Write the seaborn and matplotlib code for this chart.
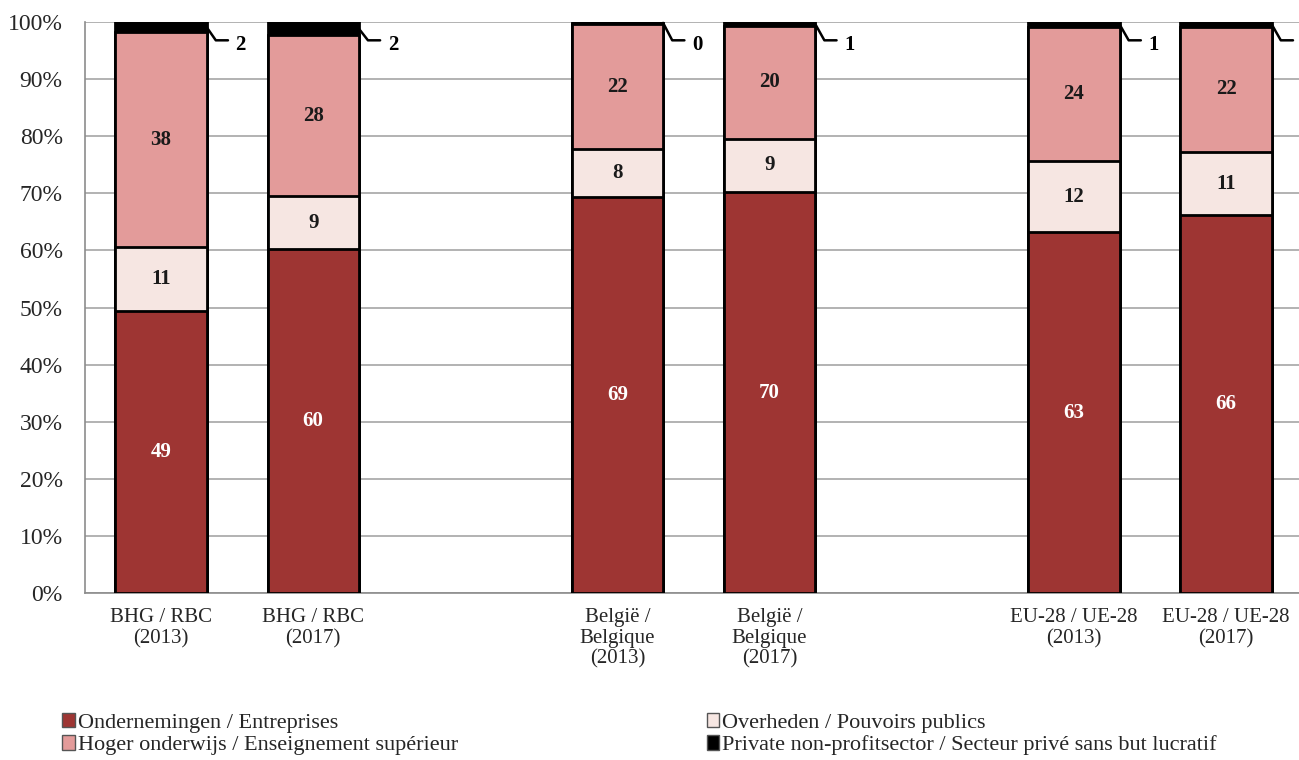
import numpy as np
import pandas as pd
import matplotlib
matplotlib.use("Agg")
import matplotlib.pyplot as plt
import seaborn as sns
from matplotlib.patches import Patch

# ---- data ----
categories = ["BHG / RBC\n(2013)", "BHG / RBC\n(2017)", " ",
              "België /\nBelgique\n(2013)", "België /\nBelgique\n(2017)", "  ",
              "EU-28 / UE-28\n(2013)", "EU-28 / UE-28\n(2017)"]
bars = ["BHG / RBC\n(2013)", "BHG / RBC\n(2017)",
        "België /\nBelgique\n(2013)", "België /\nBelgique\n(2017)",
        "EU-28 / UE-28\n(2013)", "EU-28 / UE-28\n(2017)"]
ondernemingen = [49.4, 60.2, 69.3, 70.2, 63.2, 66.2]
overheden = [11.2, 9.3, 8.4, 9.4, 12.4, 11.0]
hoger_onderwijs = [37.6, 28.2, 22.0, 19.7, 23.6, 22.0]
private_np = [1.8, 2.3, 0.3, 0.7, 0.8, 0.8]

series_names = ["Ondernemingen / Entreprises", "Overheden / Pouvoirs publics",
                "Hoger onderwijs / Enseignement supérieur",
                "Private non-profitsector / Secteur privé sans but lucratif"]
colors = ["#9e3533", "#f6e6e2", "#e39b9a", "#000000"]

series = [ondernemingen, overheden, hoger_onderwijs, private_np]
df = pd.DataFrame({"cat": bars})
for name, vals in zip(series_names, series):
    df[name] = vals
cum = df[series_names].cumsum(axis=1)

sns.set_theme(style="white")
plt.rcParams["font.family"] = ["Liberation Serif", "DejaVu Serif"]

fig = plt.figure(figsize=(12.99, 7.60), dpi=100)
ax = fig.add_axes([0.0654, 0.2197, 0.937, 0.7513])

# overlay cumulative bars (top series first)
for k in range(3, -1, -1):
    sns.barplot(x=df["cat"], y=cum[series_names[k]], order=categories,
                color=colors[k], edgecolor="black", linewidth=2,
                width=0.6, saturation=1, ax=ax, zorder=3)

ax.set_xlim(-0.5, 7.5)
ax.set_ylim(0, 100)
ax.set_xlabel("")
ax.set_ylabel("")
ax.set_yticks(np.arange(0, 101, 10))
ax.set_yticklabels([f"{v}%" for v in range(0, 101, 10)], fontsize=17)
ax.yaxis.grid(True, color="#a6a6a6", linewidth=1.2, zorder=0)
ax.set_axisbelow(True)
ax.set_xticks(range(len(categories)))
ax.set_xticklabels(categories, fontsize=15, linespacing=1.12)
ax.tick_params(axis="x", length=0, pad=11)
ax.tick_params(axis="y", length=0, pad=16)
ax.set_xticks(np.arange(-0.5, 8.0, 1.0), minor=True)
ax.tick_params(axis="x", which="minor", length=6, width=1.2, color="#8c8c8c", direction="out")
for s in ["top", "right"]:
    ax.spines[s].set_visible(False)
for s in ["left", "bottom"]:
    ax.spines[s].set_color("#8c8c8c")
    ax.spines[s].set_linewidth(1.2)

# labels
pos = {c: categories.index(c) for c in bars}
for i, c in enumerate(bars):
    x = pos[c]
    base = 0
    for k in range(3):
        v = series[k][i]
        col = "white" if k == 0 else "#1a1a1a"
        ax.text(x, base + v / 2, f"{v:.0f}", ha="center", va="center",
                fontsize=15, fontweight="bold", color=col, zorder=5)
        base += v
    v = series[3][i]
    ymid = 100 - v / 2
    ax.plot([x + 0.3, x + 0.36, x + 0.44], [ymid, 96.8, 96.8], color="black",
            lw=1.8, clip_on=False, zorder=5)
    ax.text(x + 0.49, 96.0, f"{v:.0f}", ha="left", va="center", fontsize=15,
            fontweight="bold", color="black", clip_on=False, zorder=5)

# legends
def h(c):
    return Patch(facecolor=c, edgecolor="#555555", linewidth=1)

kw = dict(frameon=False, fontsize=16, handlelength=0.55, handleheight=0.6,
          handletextpad=0.15, labelspacing=0.12, borderpad=0, borderaxespad=0)
fig.legend([h(colors[0]), h(colors[2])], [series_names[0], series_names[2]],
           loc="upper left", bbox_to_anchor=(0.048, 0.062), **kw)
fig.legend([h(colors[1]), h(colors[3])], [series_names[1], series_names[3]],
           loc="upper left", bbox_to_anchor=(0.544, 0.062), **kw)

fig.savefig("out.png", dpi=100)
